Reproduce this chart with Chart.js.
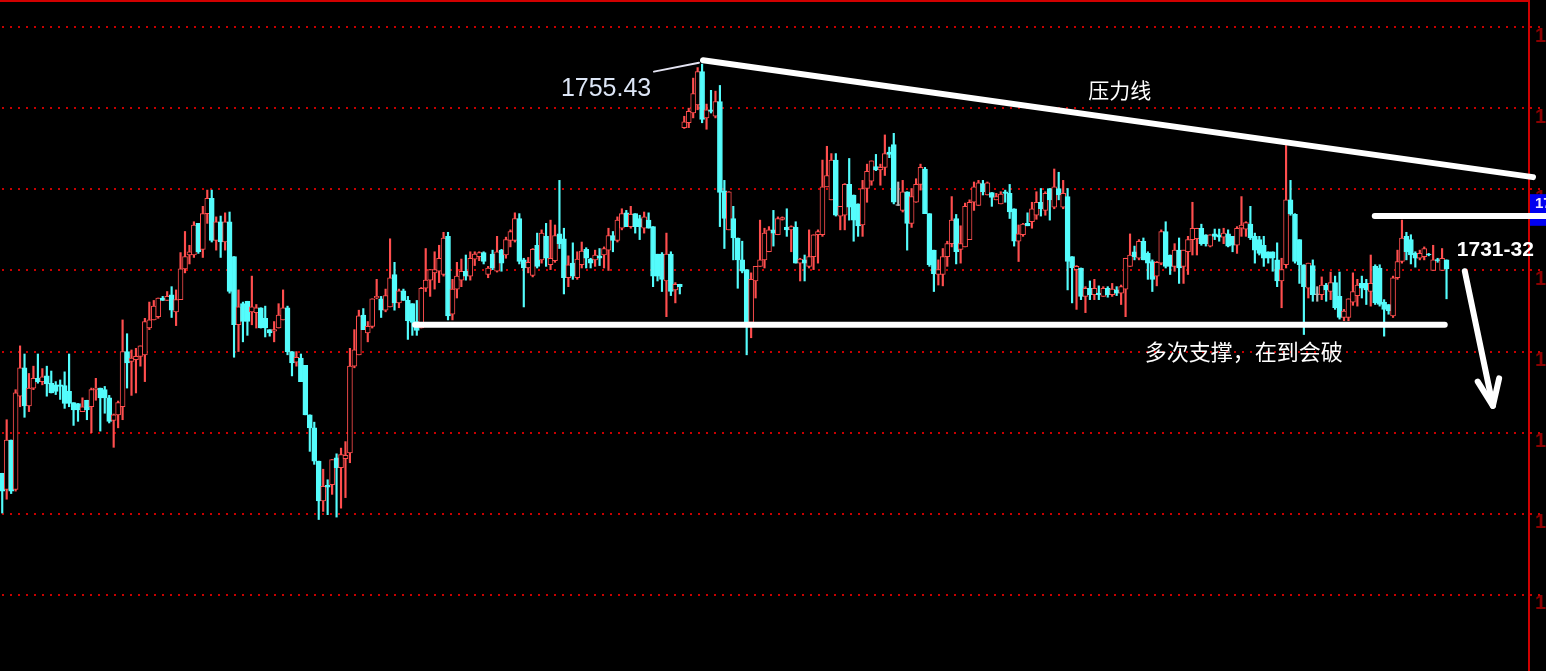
<!DOCTYPE html>
<html>
<head>
<meta charset="utf-8">
<style>
  html, body { margin: 0; padding: 0; background: #000; overflow: hidden; }
  canvas { display: block; }
</style>
<script src="https://cdn.jsdelivr.net/npm/chart.js@4.4.1/dist/chart.umd.min.js"></script>
</head>
<body>
<canvas id="c" width="1546" height="671"></canvas>
<script>
// ---------------- data (prices) ----------------
const open = [
 1705.0,1703.0,1709.1,1703.0,1714.5,1718.0,1713.3,1715.5,1716.7,1716.3,1717.0,1716.1,1715.9,1715.9,1715.8,1715.1,1713.7,1713.6,1712.6,1714.0,
 1713.2,1715.3,1715.5,1715.3,1714.3,1711.5,1712.2,1713.2,1720.0,1718.8,1719.0,1719.4,1719.6,1722.9,1723.9,1724.3,1726.6,1726.3,1727.0,1724.9,
 1726.4,1730.2,1731.9,1731.9,1735.8,1732.6,1737.0,1738.9,1733.7,1736.0,1733.5,1736.0,1731.7,1723.3,1725.9,1726.2,
 1724.9,1724.8,1725.4,1724.1,1722.7,1722.5,1722.9,1723.9,1725.4,1720.0,1718.7,1719.2,1718.3,1712.2,1710.6,1706.5,1701.6,1703.5,1703.6,1706.9,
 1705.7,1706.8,1707.5,1718.2,1719.6,1724.5,1722.3,1723.1,1726.6,1726.5,1725.1,1725.5,1729.5,1726.0,1727.5,1726.3,1725.9,1723.7,1722.9,1727.8,
 1728.8,1729.7,1729.9,1729.5,1734.2,1724.6,1727.7,1728.8,1729.9,1729.3,1731.4,1731.7,1732.2,
 1729.5,1732.0,1729.9,1732.5,1731.9,1733.7,1733.7,1736.4,1731.3,1730.3,1729.4,1733.1,1731.3,1734.2,1730.7,1731.2,1734.5,1733.9,1729.1,1730.9,
 1729.1,1730.7,1732.6,1731.4,1731.3,1731.8,1731.9,1732.5,1734.3,1733.7,1735.2,1737.1,1735.4,1737.0,1736.4,1735.2,1736.2,1735.4,1732.0,1732.0,
 1728.7,1732.0,1727.6,1728.3,
 1747.6,1748.2,1749.4,1750.4,1754.5,1748.8,1749.8,1749.0,1750.8,1739.8,
 1735.0,1736.4,1734.0,1731.3,1730.1,1723.6,1728.7,1730.5,1731.3,1732.3,1735.0,1734.4,1736.3,1735.3,1735.0,1735.3,1730.9,1731.3,1730.5,1731.7,
 1734.4,1734.4,1740.3,1738.7,1743.6,1736.7,1736.8,1740.6,1739.3,1738.2,1735.6,1740.1,1741.0,1742.8,1742.4,1742.7,1744.6,1745.5,1738.0,1737.4,
 1739.7,1735.8,1738.4,1740.6,1742.5,1737.0,1732.5,1729.5,1729.5,1731.7,1733.3,1736.4,1732.6,1732.9,
 1733.8,1738.4,1738.0,1740.7,1739.3,1739.6,1738.7,1738.2,1739.7,1739.5,1737.6,1733.6,1734.4,1735.8,1736.0,1736.8,1738.4,1737.4,1740.1,1737.8,
 1740.1,1737.8,1739.1,1731.7,1730.1,1730.3,1726.8,1727.8,1727.0,1727.2,1726.8,1727.8,1727.0,1727.6,1727.2,1727.7,1730.5,1732.3,1731.5,1733.6,
 1732.1,1731.1,1729.3,1730.9,1734.8,1731.9,1730.5,1732.5,1730.5,1732.3,1733.8,1733.9,1735.2,1734.4,
 1733.0,1734.5,1734.4,1734.1,1734.5,1734.2,1733.1,1735.2,1735.1,1735.7,1734.2,1733.8,1733.1,1732.3,1732.3,1731.3,1728.7,1730.7,1738.7,
 1736.9,1733.8,1730.7,1727.8,1730.6,1727.0,1727.0,1728.2,1727.4,1728.5,1726.8,1724.2,1724.2,1726.1,1726.9,1728.4,1728.4,1727.4,1730.5,
 1730.3,1726.1,1725.8,1724.4,1729.1,1731.1,1734.2,1733.8,1732.1,1731.5,1731.7,1732.0,1730.0,1731.3,1730.0,1731.3
];
const high = [
 1705.0,1711.6,1709.1,1715.3,1720.7,1719.7,1717.3,1718.2,1719.7,1717.9,1718.2,1717.6,1716.3,1716.5,1717.5,1719.7,1713.7,1713.6,1714.3,1714.0,
 1715.5,1716.7,1715.5,1715.7,1714.6,1712.3,1713.9,1723.9,1722.2,1720.2,1720.4,1720.7,1724.1,1726.1,1726.3,1726.6,1726.8,1727.4,1728.0,1727.6,
 1732.2,1734.8,1733.1,1736.0,1735.8,1737.9,1739.9,1739.9,1736.6,1736.7,1737.1,1737.2,1731.7,1727.6,1726.1,1726.2,
 1729.3,1725.8,1725.4,1725.6,1722.7,1723.7,1725.9,1727.6,1725.6,1720.0,1720.0,1719.7,1718.3,1712.2,1711.3,1706.5,1705.5,1704.2,1706.7,1707.4,
 1708.1,1708.9,1720.4,1722.7,1725.1,1725.3,1723.7,1726.5,1728.9,1726.8,1727.7,1733.9,1731.0,1727.7,1727.7,1726.8,1725.9,1726.3,1727.9,1732.7,
 1730.1,1732.3,1733.1,1734.7,1734.7,1728.9,1731.0,1731.4,1731.9,1732.3,1732.3,1732.3,1732.3,
 1730.5,1732.5,1734.2,1732.6,1734.1,1735.0,1737.1,1737.0,1731.5,1731.6,1732.7,1734.6,1735.0,1735.8,1736.2,1735.6,1741.1,1735.2,1731.8,1733.4,
 1732.3,1733.5,1732.8,1731.5,1732.5,1732.7,1732.9,1735.2,1734.8,1736.6,1737.6,1737.4,1737.9,1737.0,1736.8,1737.2,1737.1,1735.4,1732.0,1732.2,
 1734.6,1732.3,1728.5,1728.3,
 1749.0,1750.0,1753.7,1755.0,1755.43,1750.5,1752.2,1752.1,1752.8,1741.1,
 1739.7,1737.9,1734.0,1733.6,1730.1,1729.7,1730.5,1736.2,1735.2,1735.4,1737.4,1736.6,1736.6,1737.6,1735.5,1736.0,1731.5,1731.9,1735.0,1734.4,
 1735.0,1743.6,1745.3,1744.4,1744.4,1737.9,1740.7,1743.8,1739.3,1738.2,1741.1,1743.1,1743.5,1744.3,1743.1,1746.7,1745.2,1746.9,1740.9,1741.1,
 1739.7,1740.1,1741.3,1743.1,1742.7,1737.0,1732.5,1731.3,1732.7,1733.6,1739.1,1736.9,1735.5,1738.3,
 1738.7,1740.9,1741.1,1741.1,1740.9,1739.6,1739.5,1739.7,1739.9,1740.6,1737.6,1735.6,1735.8,1737.1,1738.4,1739.7,1740.1,1739.7,1740.1,1742.5,
 1742.1,1741.1,1740.1,1731.7,1730.6,1730.3,1728.0,1728.7,1728.9,1728.1,1728.0,1728.0,1728.4,1728.0,1728.2,1731.5,1734.5,1733.0,1733.8,1734.0,
 1732.3,1731.3,1731.1,1735.0,1736.0,1731.9,1733.3,1734.0,1732.5,1734.2,1738.4,1735.2,1735.7,1734.4,
 1734.4,1735.1,1735.1,1735.2,1735.0,1734.2,1735.4,1739.1,1736.0,1737.9,1734.6,1734.2,1734.2,1732.3,1732.3,1733.4,1731.5,1745.4,1741.1,
 1737.0,1733.8,1730.7,1730.9,1731.3,1728.0,1729.2,1728.4,1729.8,1729.3,1729.8,1725.2,1726.5,1729.7,1728.9,1729.3,1728.9,1731.9,1730.7,
 1730.7,1726.4,1725.8,1729.3,1732.5,1736.2,1734.7,1734.4,1732.3,1732.5,1732.9,1732.1,1733.1,1731.5,1732.7,1731.3
];
const low = [
 1700.1,1701.8,1702.5,1702.8,1713.2,1711.9,1712.6,1715.3,1716.1,1715.9,1714.5,1714.9,1714.7,1714.1,1713.0,1713.2,1710.9,1711.4,1712.6,1711.6,
 1710.0,1714.0,1710.2,1712.4,1711.2,1708.2,1710.6,1711.6,1715.5,1714.6,1714.9,1718.2,1716.3,1722.7,1723.9,1724.1,1726.3,1726.3,1724.2,1723.2,
 1726.4,1729.7,1730.8,1731.6,1732.1,1731.6,1735.8,1733.5,1732.5,1731.6,1732.5,1727.2,1719.3,1720.0,1721.2,1722.0,
 1723.3,1722.9,1722.9,1721.8,1721.9,1721.2,1722.9,1723.9,1719.6,1717.0,1718.2,1716.3,1712.2,1707.7,1706.1,1699.3,1700.3,1699.9,1702.4,1699.6,
 1700.7,1702.0,1706.3,1718.0,1719.6,1722.7,1721.2,1722.9,1726.5,1724.2,1724.9,1725.5,1725.1,1725.4,1726.3,1721.5,1722.0,1722.0,1722.9,1727.4,
 1726.8,1727.7,1728.5,1729.3,1723.9,1723.9,1726.6,1728.0,1728.8,1728.8,1730.6,1731.2,1730.8,
 1729.1,1730.1,1729.8,1729.9,1731.5,1732.9,1733.5,1730.8,1725.5,1729.7,1729.2,1730.3,1730.9,1730.5,1730.1,1731.0,1732.7,1727.1,1728.0,1728.9,
 1728.9,1730.3,1730.3,1730.3,1730.5,1730.6,1730.3,1730.0,1732.3,1733.5,1735.0,1735.4,1735.2,1734.6,1733.8,1734.6,1735.2,1728.0,1728.7,1727.4,
 1724.3,1726.9,1726.0,1727.1,
 1747.5,1747.6,1748.8,1749.8,1748.2,1747.4,1749.4,1748.8,1735.4,1732.7,
 1735.0,1731.3,1727.8,1729.7,1719.6,1721.7,1726.6,1730.5,1730.3,1732.3,1733.0,1734.4,1736.2,1734.2,1732.3,1730.9,1728.7,1728.7,1730.3,1730.1,
 1730.9,1734.2,1740.3,1738.7,1736.7,1735.0,1735.0,1736.2,1733.6,1734.2,1734.2,1738.4,1740.5,1742.3,1740.5,1741.7,1743.9,1738.2,1738.0,1737.2,
 1732.5,1735.3,1738.4,1739.9,1737.0,1730.5,1727.4,1728.2,1728.1,1730.5,1732.9,1730.8,1730.9,1732.9,
 1733.8,1737.4,1738.0,1739.3,1739.3,1737.9,1738.7,1738.2,1738.4,1736.4,1733.0,1731.1,1734.2,1735.5,1735.2,1736.3,1736.7,1736.8,1736.2,1737.6,
 1738.7,1737.6,1727.6,1726.0,1725.2,1726.4,1724.8,1726.4,1726.4,1726.4,1726.8,1726.7,1726.8,1726.9,1725.8,1724.3,1730.5,1731.3,1731.3,1731.3,
 1728.9,1727.4,1728.1,1730.7,1730.3,1729.5,1729.9,1728.4,1728.4,1729.5,1731.9,1731.9,1733.1,1733.0,
 1732.9,1733.8,1733.6,1733.3,1732.9,1732.3,1732.1,1734.2,1734.2,1733.8,1730.9,1731.9,1730.5,1730.9,1729.9,1728.0,1725.4,1730.3,1736.8,
 1730.9,1728.4,1722.1,1726.6,1726.2,1726.2,1726.4,1726.2,1726.4,1725.2,1724.0,1723.8,1723.8,1725.7,1725.6,1726.6,1725.8,1725.6,1725.8,
 1725.6,1721.9,1724.6,1724.2,1728.9,1730.9,1731.3,1730.8,1730.4,1731.3,1731.3,1731.8,1730.0,1731.0,1730.0,1726.5
];
const close = [
 1702.8,1709.1,1702.8,1714.9,1718.0,1713.3,1715.5,1716.7,1716.3,1716.9,1716.0,1714.9,1715.1,1715.7,1713.6,1713.6,1712.8,1712.8,1713.2,1712.8,
 1715.3,1715.5,1714.3,1714.3,1711.4,1712.2,1713.7,1720.0,1718.6,1719.2,1719.4,1720.7,1723.7,1723.9,1725.6,1726.6,1726.3,1726.8,1725.1,1726.4,
 1730.2,1731.7,1732.3,1735.6,1732.3,1737.0,1738.9,1733.7,1736.0,1733.5,1736.0,1727.4,1723.3,1725.5,1723.7,1723.7,
 1725.5,1725.4,1722.9,1722.9,1722.3,1722.7,1724.5,1725.4,1720.0,1718.6,1719.3,1716.3,1712.2,1710.6,1706.5,1701.6,1703.4,1703.3,1706.7,1705.7,
 1707.3,1707.2,1718.2,1720.2,1724.4,1722.7,1723.1,1726.5,1726.8,1725.1,1726.9,1729.1,1726.0,1727.5,1726.3,1723.8,1723.6,1722.6,1727.8,1728.8,
 1730.1,1730.1,1731.5,1734.0,1724.4,1727.7,1729.3,1729.9,1729.3,1731.5,1732.0,1732.2,1731.1,
 1730.3,1730.3,1732.3,1730.9,1733.8,1734.8,1736.4,1731.1,1730.3,1731.0,1732.6,1730.5,1734.6,1731.5,1731.5,1734.3,1733.3,1729.1,1730.7,1729.3,
 1731.4,1732.4,1731.5,1730.9,1731.9,1731.5,1732.7,1734.3,1733.7,1736.2,1737.0,1735.4,1736.9,1735.4,1735.4,1736.6,1735.2,1729.3,1729.3,1728.9,
 1732.0,1727.4,1728.3,1728.0,
 1748.3,1749.6,1751.8,1754.5,1748.6,1749.8,1749.6,1750.8,1739.6,1736.4,
 1739.7,1734.0,1731.3,1729.9,1723.6,1728.9,1730.5,1731.3,1734.6,1735.0,1734.6,1736.4,1736.5,1735.0,1735.4,1730.9,1731.4,1730.9,1731.7,1734.4,
 1734.8,1740.3,1741.7,1743.6,1736.8,1737.9,1740.6,1737.8,1736.2,1735.5,1740.1,1742.2,1743.5,1742.4,1742.7,1744.4,1744.3,1738.4,1738.0,1739.7,
 1735.8,1739.1,1740.6,1742.7,1737.0,1730.7,1729.6,1730.1,1731.7,1733.3,1736.2,1732.3,1733.3,1737.9,
 1738.4,1740.3,1740.8,1739.7,1740.8,1739.0,1739.1,1739.4,1739.5,1737.2,1733.6,1734.5,1735.7,1735.5,1737.6,1738.4,1737.6,1739.5,1738.7,1740.3,
 1739.3,1739.5,1731.1,1730.3,1730.5,1726.8,1727.8,1727.0,1727.8,1727.0,1727.8,1727.0,1727.7,1727.2,1728.0,1731.5,1731.9,1731.7,1733.6,1731.3,
 1730.9,1728.9,1731.0,1734.8,1730.5,1730.5,1732.5,1730.3,1732.5,1733.8,1735.2,1735.2,1733.3,1733.3,
 1734.4,1734.2,1734.1,1734.6,1733.0,1733.1,1735.2,1735.6,1735.9,1734.0,1732.5,1732.1,1731.5,1731.5,1731.5,1728.7,1730.1,1738.7,1737.0,
 1731.1,1730.7,1728.0,1730.9,1727.0,1727.0,1728.2,1727.6,1728.5,1725.4,1724.2,1725.0,1726.5,1727.4,1728.2,1727.8,1727.6,1728.4,1726.0,
 1725.8,1725.2,1725.0,1729.1,1731.1,1734.0,1732.3,1731.9,1731.5,1732.1,1732.7,1731.9,1731.3,1731.2,1731.5,1730.2
];
const emptySlotsRight = 18;            // blank bar slots right of the last candle
const yTicks = [1690, 1700, 1710, 1720, 1730, 1740, 1750, 1760];
const yRange = [1680.63, 1763.33];

// annotations in (bar index, price)
const highLabel = { text: '1755.43', at: [145.6, 1752.4] };
const leaderLine = [[146.2, 1754.5], [156.3, 1755.6]];
const resistanceLine = [[157.2, 1755.9], [343.4, 1741.5]];
const resistanceText = { text: '压力线', at: [250.7, 1752.2] };
const supportLine = [[92.6, 1723.3], [323.6, 1723.3]];
const supportText = { text: '多次支撑，在到会破', at: [256.3, 1720.0] };
const shortLine = [[307.9, 1736.7], [346.3, 1736.7]];
const targetText = { text: '1731-32', at: [326.3, 1732.5] };
const arrowShaft = [[328.1, 1729.9], [334.4, 1713.3]];
const arrowBarbs = [[331.0, 1716.3], [335.8, 1716.7]];
const priceBox = [1739.4, 1735.5];

// ---------------- build ----------------
const n = open.length;
const slots = Array.from({ length: n + emptySlotsRight }, (_, i) => String(i));
const UP = '#ff4e4e', DOWN = '#54fcfc', FLAT = '#b8b8b8';
const dir = open.map((o, i) => close[i] > o ? 1 : (close[i] < o ? -1 : 0));
const col = dir.map(d => d > 0 ? UP : (d < 0 ? DOWN : FLAT));

const overlay = {
  id: 'overlay',
  beforeDatasetsDraw(chart) {
    const { ctx, chartArea, scales: { y } } = chart;
    ctx.save();
    ctx.strokeStyle = '#c80000';
    ctx.lineWidth = 2;
    ctx.setLineDash([2, 6]);
    ctx.lineDashOffset = -2;
    y.ticks.forEach(t => {
      const py = Math.round(y.getPixelForValue(t.value));
      ctx.beginPath();
      ctx.moveTo(0, py);
      ctx.lineTo(chartArea.right + 12, py);
      ctx.stroke();
    });
    ctx.setLineDash([]);
    ctx.fillStyle = '#d00000';
    ctx.fillRect(0, 0, chartArea.right + 1, 2);
    ctx.restore();
  },
  afterDatasetsDraw(chart) {
    const { ctx, chartArea, scales: { x, y } } = chart;
    const P = ([i, v]) => [x.getPixelForValue(i), y.getPixelForValue(v)];
    ctx.save();
    // price box on the axis
    const b0 = y.getPixelForValue(priceBox[0]), b1 = y.getPixelForValue(priceBox[1]);
    ctx.fillStyle = '#0000f0';
    ctx.fillRect(chartArea.right + 1, b0, chart.width - chartArea.right, b1 - b0);
    ctx.fillStyle = '#f0e8ff';
    ctx.font = 'bold 15px "Liberation Sans", Arial, sans-serif';
    ctx.textBaseline = 'middle';
    ctx.textAlign = 'left';
    ctx.fillText('1737.5', chartArea.right + 6, (b0 + b1) / 2 - 6);

    const line = (pts, w, color) => {
      ctx.strokeStyle = color; ctx.lineWidth = w; ctx.lineCap = 'round'; ctx.lineJoin = 'round';
      ctx.beginPath();
      pts.forEach((p, k) => { const [px, py] = P(p); k ? ctx.lineTo(px, py) : ctx.moveTo(px, py); });
      ctx.stroke();
    };
    line(leaderLine, 2, '#e4e4f2');
    line(resistanceLine, 6, '#ffffff');
    line(supportLine, 6, '#ffffff');
    line(shortLine, 6, '#ffffff');
    line(arrowShaft, 6, '#ffffff');
    line([arrowBarbs[0], arrowShaft[1], arrowBarbs[1]], 6, '#ffffff');

    const text = (t, font, color, align) => {
      ctx.font = font; ctx.fillStyle = color; ctx.textAlign = align; ctx.textBaseline = 'middle';
      const [px, py] = P(t.at);
      ctx.fillText(t.text, px, py);
    };
    text(highLabel, '25px "Liberation Sans", Arial, sans-serif', '#dde6f6', 'right');
    text(resistanceText, '21px "Noto Sans CJK SC", sans-serif', '#ffffff', 'center');
    text(supportText, '22px "Noto Sans CJK SC", sans-serif', '#ffffff', 'left');
    text(targetText, 'bold 21px "Liberation Sans", Arial, sans-serif', '#ffffff', 'left');
    ctx.restore();
  }
};

new Chart(document.getElementById('c'), {
  type: 'bar',
  data: {
    labels: slots,
    datasets: [
      {
        label: 'wick',
        data: low.map((l, i) => [l, high[i]]),
        backgroundColor: col,
        borderWidth: 0,
        barThickness: 1.5,
        grouped: false,
        order: 2
      },
      {
        label: 'body',
        data: open.map((o, i) => [o, close[i]]),
        backgroundColor: dir.map(d => d > 0 ? '#000000' : (d < 0 ? DOWN : FLAT)),
        borderColor: col,
        borderWidth: 1,
        borderSkipped: false,
        barThickness: 5,
        minBarLength: 1,
        grouped: false,
        order: 1
      }
    ]
  },
  options: {
    responsive: false,
    animation: false,
    devicePixelRatio: 1,
    layout: { padding: 0 },
    plugins: { legend: { display: false }, tooltip: { enabled: false } },
    scales: {
      x: { type: 'category', display: false, offset: true, grid: { display: false } },
      y: {
        type: 'linear', position: 'right', min: yRange[0], max: yRange[1],
        afterBuildTicks: s => { s.ticks = yTicks.map(v => ({ value: v })); },
        afterFit: s => { s.width = 17; s.paddingTop = 0; s.paddingBottom = 0; },
        grid: { display: false, drawTicks: false },
        border: { display: true, color: '#d00000', width: 2 },
        ticks: {
          padding: 6, labelOffset: 9, color: '#8a0000',
          font: { family: 'Liberation Sans', size: 20, weight: 'bold' },
          callback: v => v.toFixed(2)
        }
      }
    }
  },
  plugins: [overlay]
});
</script>
</body>
</html>
